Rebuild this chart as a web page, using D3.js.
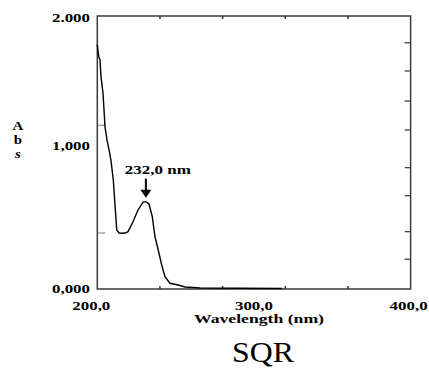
<html>
<head>
<meta charset="utf-8">
<script src="https://d3js.org/d3.v7.min.js"></script>
<style>
  body { margin: 0; background: #fff; }
  text { font-family: "Liberation Serif", "Times New Roman", serif; }
</style>
</head>
<body>
<div id="chart"></div>
<script>
// spectrum: wavelength (nm) / absorbance
var wavelength = [200.0, 200.5, 201.0, 201.7, 202.4, 203.6, 204.3, 204.9, 206.2, 207.5, 208.7, 210.2,
                  211.3, 212.4, 213.9, 215.6, 217.7, 219.6, 222.8, 226.0, 229.2, 230.9, 233.0, 235.1,
                  236.8, 238.9, 241.1, 243.2, 246.4, 251.7, 256.0, 265.6, 318.0]
var absorb = [1.79, 1.74, 1.70, 1.68, 1.55, 1.44, 1.31, 1.19, 1.09, 1.02, 0.945, 0.80,
              0.615, 0.432, 0.41, 0.408, 0.41, 0.42, 0.493, 0.579, 0.637, 0.64, 0.623, 0.53,
              0.383, 0.286, 0.176, 0.09, 0.042, 0.029, 0.015, 0.007, 0.004]

var xTicks = [240, 280, 320, 360]
var rightTicks = [1.804, 1.597, 1.377, 1.165, 0.889, 0.684, 0.42, 0.218]
var leftTicks = [1.2, 0.41]
var xLabels = [{v: 200, t: "200,0"}, {v: 300, t: "300,0"}, {v: 400, t: "400,0"}]
var yLabels = [{v: 1.985, t: "2.000"}, {v: 1.05, t: "1,000"}, {v: 0.0, t: "0,000"}]
var peakLabel = "232,0 nm"
var peakAt = 231

var width = 429
var height = 369
var pLeft = 97.3, pRight = 410.6, pTop = 16, pBottom = 289

var svg = d3.select('#chart').append('svg')
    .attr('width', width)
    .attr('height', height)

var x = d3.scaleLinear().domain([200, 400]).range([pLeft, pRight])
var y = d3.scaleLinear().domain([0, 2]).range([pBottom, pTop])

// frame
svg.append('rect')
    .attr('x', pLeft).attr('y', pTop)
    .attr('width', pRight - pLeft).attr('height', pBottom - pTop)
    .attr('fill', 'none').attr('stroke', '#3a3a3a').attr('stroke-width', 1.5)

// ticks (inside frame)
xTicks.forEach(function(v){
    svg.append('line').attr('x1', x(v)).attr('x2', x(v)).attr('y1', pTop).attr('y2', pTop + 3)
        .attr('stroke', '#333').attr('stroke-width', 1.5)
    svg.append('line').attr('x1', x(v)).attr('x2', x(v)).attr('y1', pBottom).attr('y2', pBottom - 3)
        .attr('stroke', '#333').attr('stroke-width', 1.5)
})
rightTicks.forEach(function(v){
    svg.append('line').attr('x1', pRight).attr('x2', pRight - 6).attr('y1', y(v)).attr('y2', y(v))
        .attr('stroke', '#444').attr('stroke-width', 1.3)
})
leftTicks.forEach(function(v){
    svg.append('line').attr('x1', pLeft).attr('x2', pLeft + 8).attr('y1', y(v)).attr('y2', y(v))
        .attr('stroke', '#7a7a5a').attr('stroke-width', 1)
})

// curve
var line = d3.line().x(function(d){ return x(d[0]) }).y(function(d){ return y(d[1]) })
svg.append('path')
    .datum(d3.zip(wavelength, absorb))
    .attr('d', line)
    .attr('fill', 'none').attr('stroke', '#000').attr('stroke-width', 1.4)

// tick labels (the original bitmap font is wide, so stretch it)
svg.selectAll('.xl').data(xLabels).enter().append('text')
    .attr('x', function(d){ return x(d.v) + (d.v == 200 ? -6 : (d.v == 400 ? -2 : 0)) })
    .attr('y', 310)
    .attr('text-anchor', 'middle')
    .attr('font-size', 11.5).attr('font-weight', 'bold')
    .attr('textLength', 38).attr('lengthAdjust', 'spacingAndGlyphs')
    .text(function(d){ return d.t })

svg.selectAll('.yl').data(yLabels).enter().append('text')
    .attr('x', 90)
    .attr('y', function(d){ return y(d.v) })
    .attr('dy', '0.35em')
    .attr('text-anchor', 'end')
    .attr('font-size', 11.5).attr('font-weight', 'bold')
    .attr('textLength', 38).attr('lengthAdjust', 'spacingAndGlyphs')
    .text(function(d){ return d.t })

// axis titles
svg.append('text').attr('x', 259).attr('y', 323).attr('text-anchor', 'middle')
    .attr('font-size', 11.5).attr('font-weight', 'bold')
    .attr('textLength', 130).attr('lengthAdjust', 'spacingAndGlyphs')
    .text('Wavelength (nm)')

var absLetters = ['A', 'b', 's']
absLetters.forEach(function(c, i){
    svg.append('text').attr('x', 18).attr('y', 130 + i * 14).attr('text-anchor', 'middle')
        .attr('font-size', 11.5).attr('font-weight', 'bold')
        .attr('font-style', i == 2 ? 'italic' : 'normal')
        .attr('transform', 'translate(18,0) scale(1.3,1) translate(-18,0)')
        .text(c)
})

// peak annotation
var px = x(peakAt), py = y(0.64)
svg.append('line').attr('x1', px).attr('x2', px).attr('y1', py - 23).attr('y2', py - 10)
    .attr('stroke', '#000').attr('stroke-width', 2)
svg.append('path')
    .attr('d', 'M' + (px - 5.5) + ',' + (py - 12) + 'L' + (px + 5.5) + ',' + (py - 12) + 'L' + px + ',' + (py - 4) + 'Z')
    .attr('fill', '#000')
svg.append('text').attr('x', px + 12).attr('y', py - 28).attr('text-anchor', 'middle')
    .attr('font-size', 11.5).attr('font-weight', 'bold')
    .attr('textLength', 66).attr('lengthAdjust', 'spacingAndGlyphs')
    .text(peakLabel)

// caption
svg.append('text').attr('x', 263).attr('y', 362).attr('text-anchor', 'middle')
    .attr('font-size', 29).attr('textLength', 62).attr('lengthAdjust', 'spacingAndGlyphs')
    .text('SQR')
</script>
</body>
</html>
